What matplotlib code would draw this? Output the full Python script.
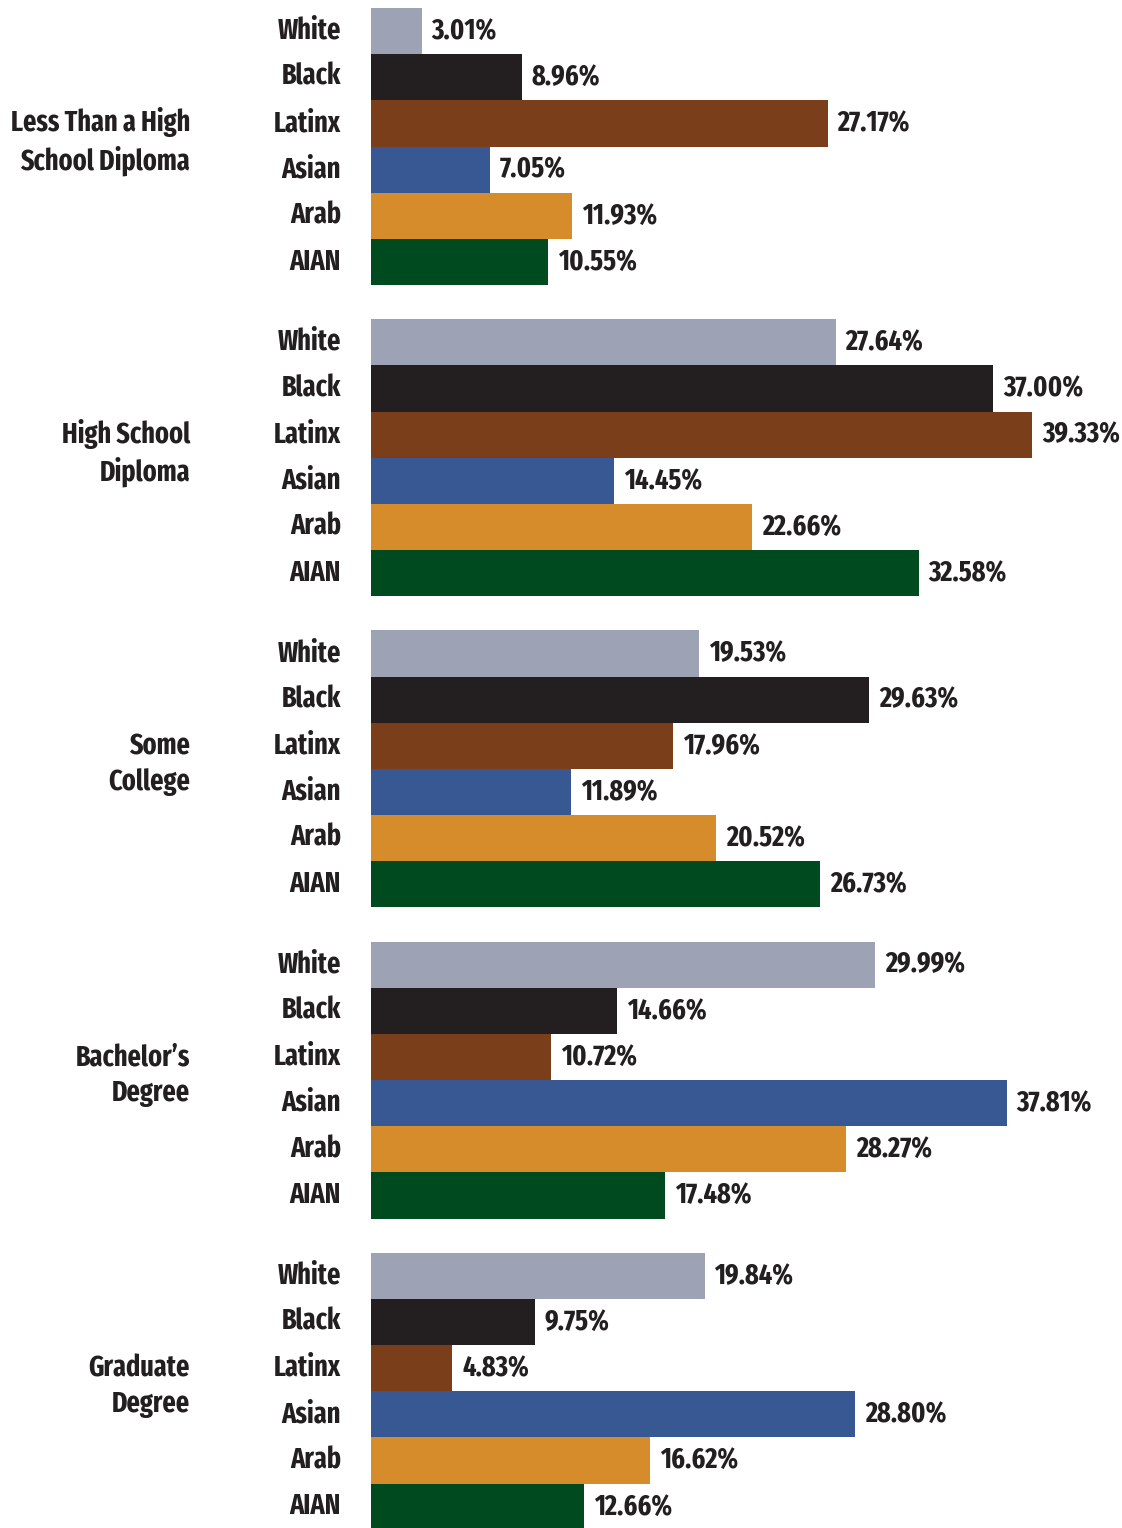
import matplotlib
matplotlib.use("Agg")
import matplotlib.pyplot as plt

groups = ["Less Than a High\nSchool Diploma", "High School\nDiploma", "Some\nCollege",
          "Bachelor\u2019s\nDegree", "Graduate\nDegree"]
races = ["White", "Black", "Latinx", "Asian", "Arab", "AIAN"]
race_colors = ["#9da2b5", "#231f20", "#7a3e1a", "#385894", "#d68c2a", "#004a1f"]

less_than_hs = [3.01, 8.96, 27.17, 7.05, 11.93, 10.55]
high_school = [27.64, 37.00, 39.33, 14.45, 22.66, 32.58]
some_college = [19.53, 29.63, 17.96, 11.89, 20.52, 26.73]
bachelors = [29.99, 14.66, 10.72, 37.81, 28.27, 17.48]
graduate = [19.84, 9.75, 4.83, 28.80, 16.62, 12.66]
values = [less_than_hs, high_school, some_college, bachelors, graduate]

W, H, DPI = 1122, 1528, 100
px_per_pct = 16.81
x0_px = 371
bar_px = 46.17
stride = 6.74  # group spacing in bar units

fig = plt.figure(figsize=(W / DPI, H / DPI), dpi=DPI)
ax = fig.add_axes([0, 0, 1, 1])
ax.set_xlim(-x0_px / px_per_pct, (W - x0_px) / px_per_pct)
top = -8 / bar_px
ax.set_ylim(top + H / bar_px, top)
ax.axis("off")

font = dict(family=["Fira Sans Extra Condensed", "Fira Sans Condensed", "Roboto Condensed",
                    "PT Sans Narrow", "DejaVu Sans"],
            fontweight="bold", fontsize=20.5, color="#231f20")
cat_x = -30 / px_per_pct
grp_x = -181 / px_per_pct
pad = 10 / px_per_pct

for g, (name, vals) in enumerate(zip(groups, values)):
    base = g * stride
    for i, (race, v, c) in enumerate(zip(races, vals, race_colors)):
        y = base + i + 0.5
        ax.barh(y, v, height=1.0, color=c, edgecolor="none")
        ax.text(cat_x, y, race, ha="right", va="center", **font)
        ax.text(v + pad, y, f"{v:.2f}%", ha="left", va="center", **font)
    ax.text(grp_x, base + 2.9, name, ha="right", va="center",
            linespacing=1.32, **font)

fig.savefig("out.png", dpi=DPI)
